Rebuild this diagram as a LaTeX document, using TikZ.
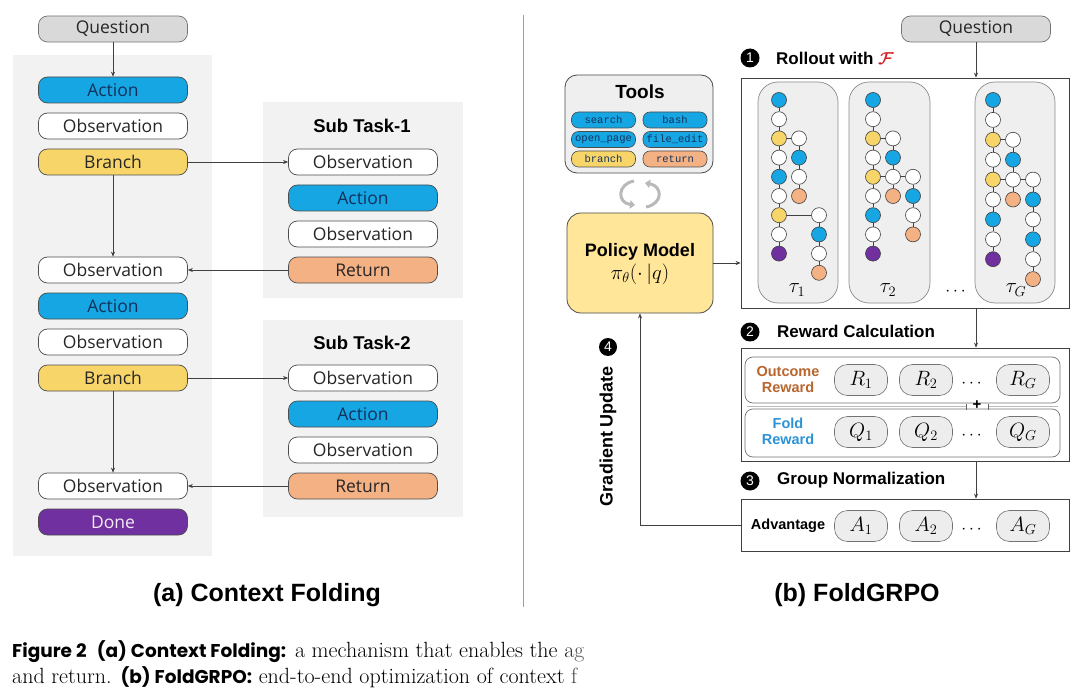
\documentclass[tikz,border=0pt]{standalone}
\usepackage{amsmath}
\usepackage{fontspec}
\usetikzlibrary{arrows.meta,fadings,calc}
\newfontfamily\nf{Open Sans}
\newfontfamily\hf{Liberation Sans}
\newfontfamily\pf{Poppins}
\newfontfamily\mf{Liberation Mono}
\definecolor{cblue}{HTML}{15A6E3}
\definecolor{cnavy}{HTML}{13315C}
\definecolor{cyellow}{HTML}{F8D568}
\definecolor{corange}{HTML}{F4B183}
\definecolor{cpurple}{HTML}{7030A0}
\definecolor{cgray}{HTML}{D9D9D9}
\definecolor{cpanel}{HTML}{F2F2F2}
\definecolor{ctraj}{HTML}{EFEFEF}
\definecolor{cpol}{HTML}{FFE699}
\definecolor{cout}{HTML}{B8652E}
\definecolor{cfold}{HTML}{2E93D6}
\definecolor{cred}{HTML}{D42020}
\definecolor{cpill}{HTML}{EDEDED}
\tikzfading[name=fadeR, left color=transparent!100, right color=transparent!0]
\begin{document}
\begin{tikzpicture}[x=1pt,y=-1pt,
  box/.style={rounded corners=9pt, draw=black!70, line width=0.7pt, minimum width=149pt, minimum height=26pt, inner sep=0pt, font=\nf\fontsize{17.5}{19}\selectfont, text=black!85},
  obs/.style={box, fill=white},
  act/.style={box, fill=cblue, text=cnavy},
  brn/.style={box, fill=cyellow},
  ret/.style={box, fill=corange},
  don/.style={box, fill=cpurple, text=violet!8},
  qst/.style={box, fill=cgray, draw=black!55},
  panelnode/.style={fill=cpanel, inner sep=0pt},
  hdr/.style={font=\hf\bfseries\fontsize{17}{20}\selectfont, inner sep=0pt},
  sub/.style={font=\hf\bfseries\fontsize{18.5}{20}\selectfont, inner sep=0pt},
  arr/.style={-{Stealth[length=5pt,width=4pt]}, line width=0.6pt, draw=black!75},
  num/.style={circle, fill=black, text=white, inner sep=0pt, minimum size=19pt, font=\hf\fontsize{14}{14}\selectfont},
  tool/.style={rounded corners=7pt, draw=black!70, line width=0.6pt, minimum width=64pt, minimum height=16pt, inner sep=0pt, font=\mf\fontsize{10.5}{12}\selectfont, text=cnavy},
  dot/.style={circle, draw=black!75, line width=0.6pt, minimum size=15pt, inner sep=0pt},
  lk/.style={draw=black!75, line width=0.6pt},
  traj/.style={rounded corners=20pt, fill=ctraj, draw=black!45, line width=0.7pt, minimum width=80pt, minimum height=221pt, inner sep=0pt},
  pill/.style={rounded corners=13pt, fill=cpill, draw=black!55, line width=0.6pt, minimum width=53pt, minimum height=31pt, inner sep=0pt, font=\fontsize{20}{22}\selectfont},
  mdots/.style={font=\fontsize{18}{20}\selectfont, inner sep=0pt},
  bigbox/.style={draw=black!75, line width=0.8pt, inner sep=0pt},
  inbox/.style={rounded corners=8pt, draw=black!55, line width=0.7pt, fill=white, minimum width=315pt, inner sep=0pt},
  lbl/.style={font=\hf\bfseries\fontsize{14.5}{16}\selectfont, align=center, inner sep=0pt},
  taul/.style={font=\fontsize{22}{24}\selectfont, inner sep=0pt},
  cyc/.style={line width=3pt, draw=gray!55, -{Triangle[length=5pt,width=8.5pt]}}
]
\useasboundingbox (0,0) rectangle (1080,698);
\fill[white] (0,0) rectangle (1080,698);

% ---------- (a) Context Folding ----------
\node[panelnode, minimum width=199pt, minimum height=501pt] (lp) at (112.5,305.5) {};
\node[panelnode, minimum width=200pt, minimum height=196pt] (sp1) at (363,200) {};
\node[panelnode, minimum width=200pt, minimum height=197pt] (sp2) at (363,418.5) {};

\node[qst] (q1) at (113,29) {Question};
\node[act] (a1) at (113,90) {Action};
\node[obs] (o1) at (113,126) {Observation};
\node[brn] (b1) at (113,162) {Branch};
\node[obs] (o2) at (113,270) {Observation};
\node[act] (a2) at (113,306) {Action};
\node[obs] (o3) at (113,342) {Observation};
\node[brn] (b2) at (113,378) {Branch};
\node[obs] (o4) at (113,486) {Observation};
\node[don] (d1) at (113,522) {Done};

\node[sub] (s1t) at (362,126) {Sub Task-1};
\node[obs] (s1o1) at (363,162) {Observation};
\node[act] (s1a) at (363,198) {Action};
\node[obs] (s1o2) at (363,234) {Observation};
\node[ret] (s1r) at (363,270) {Return};

\node[sub] (s2t) at (362,343) {Sub Task-2};
\node[obs] (s2o1) at (363,378) {Observation};
\node[act] (s2a) at (363,414) {Action};
\node[obs] (s2o2) at (363,450) {Observation};
\node[ret] (s2r) at (363,486) {Return};

\draw[arr] (q1) -- (a1);
\draw[arr] (b1) -- (s1o1);
\draw[arr] (b1) -- (o2);
\draw[arr] (s1r) -- (o2);
\draw[arr] (b2) -- (s2o1);
\draw[arr] (b2) -- (o4);
\draw[arr] (s2r) -- (o4);

\node[font=\hf\bfseries\fontsize{25}{28}\selectfont, inner sep=0pt] (capa) at (267,595) {(a) Context Folding};

% divider
\coordinate (dv1) at (523,15);
\coordinate (dv2) at (523,607);
\draw[gray!75, line width=1pt] (dv1) -- (dv2);

% ---------- (b) FoldGRPO ----------
% tools
\node[rounded corners=12pt, fill=ctraj, draw=black!70, line width=0.8pt, minimum width=148pt, minimum height=98pt, inner sep=0pt] (tools) at (639,124) {};
\node[font=\hf\bfseries\fontsize{19}{22}\selectfont, inner sep=0pt] (toolt) at (640,92) {Tools};
\node[tool, fill=cblue] (tsearch) at (603.5,120) {search};
\node[tool, fill=cblue] (tbash) at (675,120) {bash};
\node[tool, fill=cblue] (topen) at (603.5,139.5) {open\_page};
\node[tool, fill=cblue] (tfile) at (675,139.5) {file\_edit};
\node[tool, fill=cyellow] (tbranch) at (603.5,159) {branch};
\node[tool, fill=corange] (treturn) at (675,159) {return};

% cycle arrows
\coordinate (cyA1) at (634,181);
\coordinate (cyA2) at (635,205);
\draw[cyc] (cyA1) .. controls (617,184) and (617,203) .. (cyA2);
\coordinate (cyB1) at (646,207);
\coordinate (cyB2) at (645,183);
\draw[cyc] (cyB1) .. controls (663,204) and (663,186) .. (cyB2);

% policy model
\node[rounded corners=14pt, fill=cpol, draw=black!70, line width=0.8pt, minimum width=146pt, minimum height=100pt, inner sep=0pt] (pol) at (640,263) {};
\node[font=\hf\bfseries\fontsize{18}{20}\selectfont, inner sep=0pt] (polt) at (640,252) {Policy Model};
\node[font=\fontsize{20}{22}\selectfont, inner sep=0pt] (polm) at (640,274) {$\pi_{\theta}(\cdot\,|q)$};

% question right
\node[qst] (q2) at (976,29) {Question};

% rollout
\node[num] (n1) at (750,58) {1};
\node[hdr, anchor=west] (rt) at (776,58) {Rollout with \textcolor{cred}{$\boldsymbol{\mathcal{F}}$}};
\node[bigbox, minimum width=328pt, minimum height=230pt] (roll) at (905,193) {};

\node[traj] (tp1) at (798,192.5) {};
\node[traj, minimum width=81pt] (tp2) at (889.5,192.5) {};
\node[traj] (tp3) at (1015,192.5) {};

% trajectory 1
\foreach \r/\c in {0/cblue,1/white,2/cyellow,3/white,4/cblue,5/white,6/cyellow,7/white,8/cpurple}
  \node[dot, fill=\c] (t1m\r) at (779,{100+19.2*\r}) {};
\foreach \r/\c in {2/white,3/cblue,4/white,5/corange}
  \node[dot, fill=\c] (t1b\r) at (799,{100+19.2*\r}) {};
\foreach \r/\c in {6/white,7/cblue,8/white,9/corange}
  \node[dot, fill=\c] (t1c\r) at (819,{100+19.2*\r}) {};
\foreach \r in {0,...,7}{\pgfmathtruncatemacro\nx{\r+1}\draw[lk] (t1m\r) -- (t1m\nx);}
\foreach \r in {2,3,4}{\pgfmathtruncatemacro\nx{\r+1}\draw[lk] (t1b\r) -- (t1b\nx);}
\foreach \r in {6,7,8}{\pgfmathtruncatemacro\nx{\r+1}\draw[lk] (t1c\r) -- (t1c\nx);}
\draw[lk] (t1m2) -- (t1b2);
\draw[lk] (t1m6) -- (t1c6);

% trajectory 2
\foreach \r/\c in {0/cblue,1/white,2/cyellow,3/white,4/cyellow,5/white,6/cblue,7/white,8/cpurple}
  \node[dot, fill=\c] (t2m\r) at (873,{100+19.2*\r}) {};
\foreach \r/\c in {2/white,3/cblue,4/white,5/corange}
  \node[dot, fill=\c] (t2b\r) at (893,{100+19.2*\r}) {};
\foreach \r/\c in {4/white,5/cblue,6/white,7/corange}
  \node[dot, fill=\c] (t2c\r) at (913,{100+19.2*\r}) {};
\foreach \r in {0,...,7}{\pgfmathtruncatemacro\nx{\r+1}\draw[lk] (t2m\r) -- (t2m\nx);}
\foreach \r in {2,3,4}{\pgfmathtruncatemacro\nx{\r+1}\draw[lk] (t2b\r) -- (t2b\nx);}
\foreach \r in {4,5,6}{\pgfmathtruncatemacro\nx{\r+1}\draw[lk] (t2c\r) -- (t2c\nx);}
\draw[lk] (t2m2) -- (t2b2);
\draw[lk] (t2m4) -- (t2b4);
\draw[lk] (t2b4) -- (t2c4);

% trajectory G
\foreach \r/\c in {0/cblue,1/white,2/cyellow,3/white,4/cyellow,5/white,6/cblue,7/white,8/cpurple}
  \node[dot, fill=\c] (t3m\r) at (993,{100+19.9*\r}) {};
\foreach \r/\c in {2/white,3/cblue,4/white,5/corange}
  \node[dot, fill=\c] (t3b\r) at (1013,{100+19.9*\r}) {};
\foreach \r/\c in {4/white,5/cblue,6/white,7/cblue,8/white,9/corange}
  \node[dot, fill=\c] (t3c\r) at (1033,{100+19.9*\r}) {};
\foreach \r in {0,...,7}{\pgfmathtruncatemacro\nx{\r+1}\draw[lk] (t3m\r) -- (t3m\nx);}
\foreach \r in {2,3,4}{\pgfmathtruncatemacro\nx{\r+1}\draw[lk] (t3b\r) -- (t3b\nx);}
\foreach \r in {4,...,8}{\pgfmathtruncatemacro\nx{\r+1}\draw[lk] (t3c\r) -- (t3c\nx);}
\draw[lk] (t3m2) -- (t3b2);
\draw[lk] (t3m4) -- (t3b4);
\draw[lk] (t3b4) -- (t3c4);

\node[taul] (tl1) at (797,290) {$\tau_1$};
\node[taul] (tl2) at (888,290) {$\tau_2$};
\node[taul] (tl3) at (1016,290) {$\tau_G$};
\node[mdots] (tdots) at (957,292) {$\cdots$};

% reward calculation
\node[num] (n2) at (750,332) {2};
\node[hdr, anchor=west] (rct) at (777,331) {Reward Calculation};
\node[bigbox, minimum width=328pt, minimum height=113pt] (rew) at (905,404.5) {};
\node[inbox, minimum height=46pt] (outb) at (902.5,380) {};
\node[inbox, minimum height=48pt] (foldb) at (902.5,433) {};
\coordinate (pl1) at (747,406.5);
\coordinate (pl2) at (966,406.5);
\coordinate (pl3) at (988,406.5);
\coordinate (pl4) at (1058,406.5);
\draw[gray!55, line width=1.3pt] (pl1) -- (pl2);
\draw[gray!55, line width=1.3pt] (pl3) -- (pl4);
\draw[black!60, line width=0.6pt] ($(pl2)+(0,-3)$) -- ($(pl2)+(0,3)$);
\draw[black!60, line width=0.6pt] ($(pl3)+(0,-3)$) -- ($(pl3)+(0,3)$);
\node[font=\hf\bfseries\fontsize{15}{15}\selectfont, inner sep=0pt] (plus) at (977,405) {+};

\node[lbl, text=cout] (outl) at (788,380) {Outcome\\Reward};
\node[lbl, text=cfold] (foldl) at (788,431) {Fold\\Reward};
\node[pill] (r1) at (861,380) {$R_1$};
\node[pill] (r2) at (926,380) {$R_2$};
\node[mdots] (rdots) at (973,384) {$\cdots$};
\node[pill] (rg) at (1023,380) {$R_G$};
\node[pill] (qq1) at (861,432) {$Q_1$};
\node[pill] (qq2) at (926,432) {$Q_2$};
\node[mdots] (qdots) at (973,436) {$\cdots$};
\node[pill] (qg) at (1023,432) {$Q_G$};

% group normalization
\node[num] (n3) at (750,481) {3};
\node[hdr, anchor=west] (gnt) at (777,480) {Group Normalization};
\node[bigbox, minimum width=328pt, minimum height=52pt] (adv) at (905,525) {};
\node[lbl] (advl) at (788,526) {Advantage};
\node[pill] (aa1) at (861,526) {$A_1$};
\node[pill] (aa2) at (926,526) {$A_2$};
\node[mdots] (adots) at (973,530) {$\cdots$};
\node[pill] (ag) at (1023,526) {$A_G$};

% gradient update
\node[num, minimum size=18pt] (n4) at (608,347) {4};
\node[hdr, rotate=90, font=\hf\bfseries\fontsize{18}{20}\selectfont] (gu) at (608,436) {Gradient Update};

% connectors
\draw[arr] (q2.south) -- (q2.south |- roll.north);
\draw[arr] (roll.south -| q2) -- (rew.north -| q2);
\draw[arr] (rew.south -| q2) -- (adv.north -| q2);
\draw[arr] (pol.east) -- (pol.east -| roll.west);
\draw[arr] (adv.west) -| (pol.south);

\node[font=\hf\bfseries\fontsize{25}{28}\selectfont, inner sep=0pt] (capb) at (857,595) {(b) FoldGRPO};

% figure caption
\node[anchor=west, inner sep=0pt, font=\fontsize{22}{24}\selectfont] (cap1) at (12,652) {{\pf\bfseries\fontsize{18.5}{20}\selectfont Figure 2\hspace{0.55em}(a) Context Folding:} a mechanism that enables the ag};
\node[anchor=west, inner sep=0pt, font=\fontsize{22}{24}\selectfont] (cap2) at (12,677) {and return. {\pf\bfseries\fontsize{18.5}{20}\selectfont (b) FoldGRPO:} end-to-end optimization of context f};
\fill[white, path fading=fadeR] (560,632) rectangle (615,698);
\fill[white] (615,632) rectangle (1080,698);
\end{tikzpicture}
\end{document}
